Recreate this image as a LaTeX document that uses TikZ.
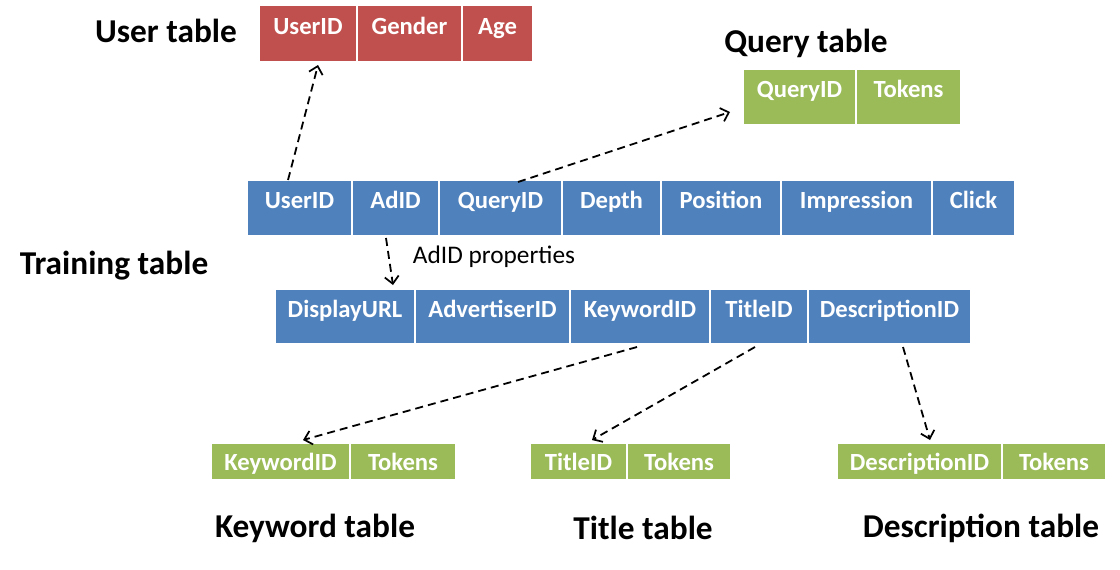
\documentclass[tikz,border=0pt]{standalone}
\usepackage{fontspec}
\setmainfont{Carlito}
\usetikzlibrary{positioning,arrows.meta}
\definecolor{userred}{HTML}{C0504D}
\definecolor{adblue}{HTML}{4F81BD}
\definecolor{tokgreen}{HTML}{9BBB59}
\begin{document}
\begin{tikzpicture}[x=0.75pt,y=-0.75pt,
	cell/.style={draw=white,line width=1.1pt,inner sep=0pt,outer sep=0pt,text=white,font=\bfseries\fontsize{18.5}{22}\selectfont,align=center},
	tallcell/.style={cell,minimum height=42pt,text height=13pt,text depth=11.7pt},
	flatcell/.style={cell,minimum height=27.75pt,text height=14pt,text depth=0pt},
	title/.style={font=\bfseries\fontsize{25}{30}\selectfont},
	link/.style={line width=1.35pt,dash pattern=on 6pt off 3.8pt,-{Straight Barb[length=5.5pt,width=10.5pt,line width=1.3pt]}}]
	\useasboundingbox (0,0) rectangle (1120,569);
	% user table
	\node[tallcell,fill=userred,minimum width=73.5pt,minimum height=42.75pt,anchor=north west] (uuser) at (259,5) {UserID};
	\node[tallcell,fill=userred,minimum width=78.75pt,minimum height=42.75pt,right=0pt of uuser] (ugender) {Gender};
	\node[tallcell,fill=userred,minimum width=53.25pt,minimum height=42.75pt,right=0pt of ugender] (uage) {Age};
	\node[title] (utitle) at (166,31) {User table};
	% query table
	\node[tallcell,fill=tokgreen,minimum width=84.75pt,anchor=north west] (qquery) at (743,69) {QueryID};
	\node[tallcell,fill=tokgreen,minimum width=78.75pt,right=0pt of qquery] (qtok) {Tokens};
	\node[title] (qtitle) at (806,43) {Query table};
	% training table
	\node[tallcell,fill=adblue,minimum width=78.75pt,anchor=north west] (tuser) at (247,180) {UserID};
	\node[tallcell,fill=adblue,minimum width=65.25pt,right=0pt of tuser] (tad) {AdID};
	\node[tallcell,fill=adblue,minimum width=92.25pt,right=0pt of tad] (tquery) {QueryID};
	\node[tallcell,fill=adblue,minimum width=74.25pt,right=0pt of tquery] (tdepth) {Depth};
	\node[tallcell,fill=adblue,minimum width=90pt,right=0pt of tdepth] (tpos) {Position};
	\node[tallcell,fill=adblue,minimum width=113.25pt,right=0pt of tpos] (timp) {Impression};
	\node[tallcell,fill=adblue,minimum width=62.25pt,right=0pt of timp] (tclick) {Click};
	\node[title] (ttitle) at (114,266) {Training table};
	% AdID properties
	\node[tallcell,fill=adblue,minimum width=105pt,minimum height=41.25pt,anchor=north west] (pdisp) at (275,289) {DisplayURL};
	\node[tallcell,fill=adblue,minimum width=116.25pt,minimum height=41.25pt,right=0pt of pdisp] (padv) {AdvertiserID};
	\node[tallcell,fill=adblue,minimum width=105pt,minimum height=41.25pt,right=0pt of padv] (pkey) {KeywordID};
	\node[tallcell,fill=adblue,minimum width=73.5pt,minimum height=41.25pt,right=0pt of pkey] (ptitle) {TitleID};
	\node[tallcell,fill=adblue,minimum width=122.25pt,minimum height=41.25pt,right=0pt of ptitle] (pdesc) {DescriptionID};
	\node[font=\fontsize{19}{23}\selectfont] (plabel) at (494,257) {AdID properties};
	% keyword, title and description tables
	\node[flatcell,fill=tokgreen,minimum width=104.25pt,anchor=north west] (kkey) at (211,443) {KeywordID};
	\node[flatcell,fill=tokgreen,minimum width=79.5pt,right=0pt of kkey] (ktok) {Tokens};
	\node[title] (ktitle) at (315,528) {Keyword table};
	\node[flatcell,fill=tokgreen,minimum width=72.75pt,anchor=north west] (ttid) at (530,443) {TitleID};
	\node[flatcell,fill=tokgreen,minimum width=78pt,right=0pt of ttid] (ttok) {Tokens};
	\node[title] (tttitle) at (643,528) {Title table};
	\node[flatcell,fill=tokgreen,minimum width=123.75pt,anchor=north west] (ddesc) at (837,443) {DescriptionID};
	\node[flatcell,fill=tokgreen,minimum width=78pt,right=0pt of ddesc] (dtok) {Tokens};
	\node[title] (dtitle) at (981,528) {Description table};
	% links
	\draw[link] ([shift={(-11.5,0)}]tuser.north)--([shift={(10,3)}]uuser.south);
	\draw[link] ([shift={(17.5,2)}]tquery.north)--([shift={(-13,15)}]qquery.west);
	\draw[link] ([shift={(-9.5,2)}]tad.south)--([shift={(-22,-4)}]pdisp.north east);
	\draw[link] ([shift={(-3,3)}]pkey.south)--([shift={(22.5,-3)}]kkey.north);
	\draw[link] ([shift={(-4,3)}]ptitle.south)--([shift={(13.5,-3)}]ttid.north);
	\draw[link] ([shift={(13.5,3)}]pdesc.south)--([shift={(10.5,-3)}]ddesc.north);
\end{tikzpicture}
\end{document}
